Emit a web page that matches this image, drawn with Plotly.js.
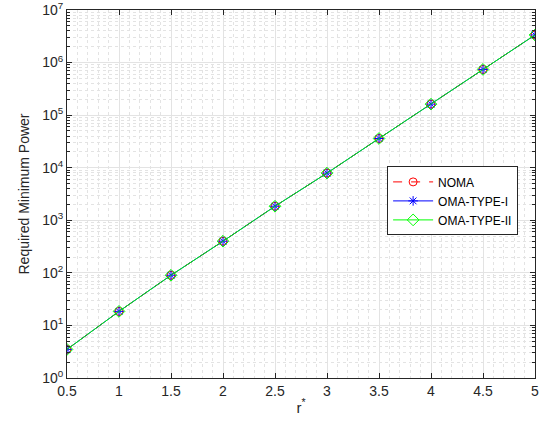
<!DOCTYPE html>
<html>
<head>
<meta charset="utf-8">
<script src="https://cdn.plot.ly/plotly-3.0.1.min.js"></script>
<style>html,body{margin:0;padding:0;background:#fff;}#chart{width:545px;height:429px;}</style>
</head>
<body>
<div id="chart"></div>
<script>
const rStar = [0.5, 1, 1.5, 2, 2.5, 3, 3.5, 4, 4.5, 5];
const noma = [3.5, 18.5, 90, 400, 1850, 7900, 36000, 162000, 740000, 3350000];
const omaTypeI = [3.5, 18.5, 90, 400, 1850, 7900, 36000, 162000, 740000, 3350000];
const omaTypeII = [3.5, 18.5, 90, 400, 1850, 7900, 36000, 162000, 740000, 3350000];
const seriesNames = ["NOMA", "OMA-TYPE-I", "OMA-TYPE-II"];
const xTicks = [0.5, 1, 1.5, 2, 2.5, 3, 3.5, 4, 4.5, 5];
const xTickText = ["0.5", "1", "1.5", "2", "2.5", "3", "3.5", "4", "4.5", "5"];
const yTicks = [1, 10, 100, 1000, 10000, 100000, 1000000, 10000000];
const yTickText = ["10<sup>0</sup>", "10<sup>1</sup>", "10<sup>2</sup>", "10<sup>3</sup>", "10<sup>4</sup>", "10<sup>5</sup>", "10<sup>6</sup>", "10<sup>7</sup>"];

const font = "'Liberation Sans', Arial, sans-serif";
const traces = [
  {x: rStar, y: noma, name: seriesNames[0], mode: "lines+markers",
   line: {color: "#ff0000", width: 1, dash: "dash"},
   marker: {symbol: "circle-open", size: 8, color: "#ff0000", line: {width: 1, color: "#ff0000"}}},
  {x: rStar, y: omaTypeI, name: seriesNames[1], mode: "lines+markers",
   line: {color: "#0000ff", width: 1},
   marker: {symbol: "asterisk-open", size: 8, color: "#0000ff", line: {width: 1, color: "#0000ff"}}},
  {x: rStar, y: omaTypeII, name: seriesNames[2], mode: "lines+markers",
   line: {color: "#00ff00", width: 1},
   marker: {symbol: "diamond-open", size: 9, color: "#00ff00", line: {width: 1, color: "#00ff00"}}}
];

const axisCommon = {
  showline: true, linecolor: "#262626", linewidth: 1, mirror: "allticks",
  ticks: "inside", ticklen: 5, tickcolor: "#262626",
  gridcolor: "#e3e3e3", gridwidth: 1, zeroline: false,
  tickfont: {family: font, size: 14, color: "#262626"}
};

const layout = {
  width: 545, height: 429,
  margin: {l: 67, r: 10, t: 10, b: 51},
  paper_bgcolor: "#fff", plot_bgcolor: "#fff",
  showlegend: true,
  xaxis: Object.assign({}, axisCommon, {
    range: [0.5, 5], tickvals: xTicks, ticktext: xTickText,
    minor: {dtick: 0.1, tick0: 0.5, showgrid: true, gridcolor: "#e3e3e3", griddash: "dot", ticks: ""},
    title: {text: "r<sup>*</sup>", font: {family: font, size: 15, color: "#262626"}, standoff: 4}
  }),
  yaxis: Object.assign({}, axisCommon, {
    type: "log", range: [0, 7], tickvals: yTicks, ticktext: yTickText,
    minor: {dtick: "D1", showgrid: true, gridcolor: "#e3e3e3", griddash: "dot", ticks: "inside", ticklen: 3, tickcolor: "#262626"},
    title: {text: "Required Minimum Power", font: {family: font, size: 14, color: "#262626"}, standoff: 9}
  }),
  legend: {
    x: 0.684, y: 0.575, xanchor: "left", yanchor: "top",
    bgcolor: "#fff", bordercolor: "#262626", borderwidth: 1,
    font: {family: font, size: 12, color: "#000"},
    tracegroupgap: 0, itemwidth: 40
  }
};

Plotly.newPlot("chart", traces, layout, {displayModeBar: false, staticPlot: true});
</script>
</body>
</html>
